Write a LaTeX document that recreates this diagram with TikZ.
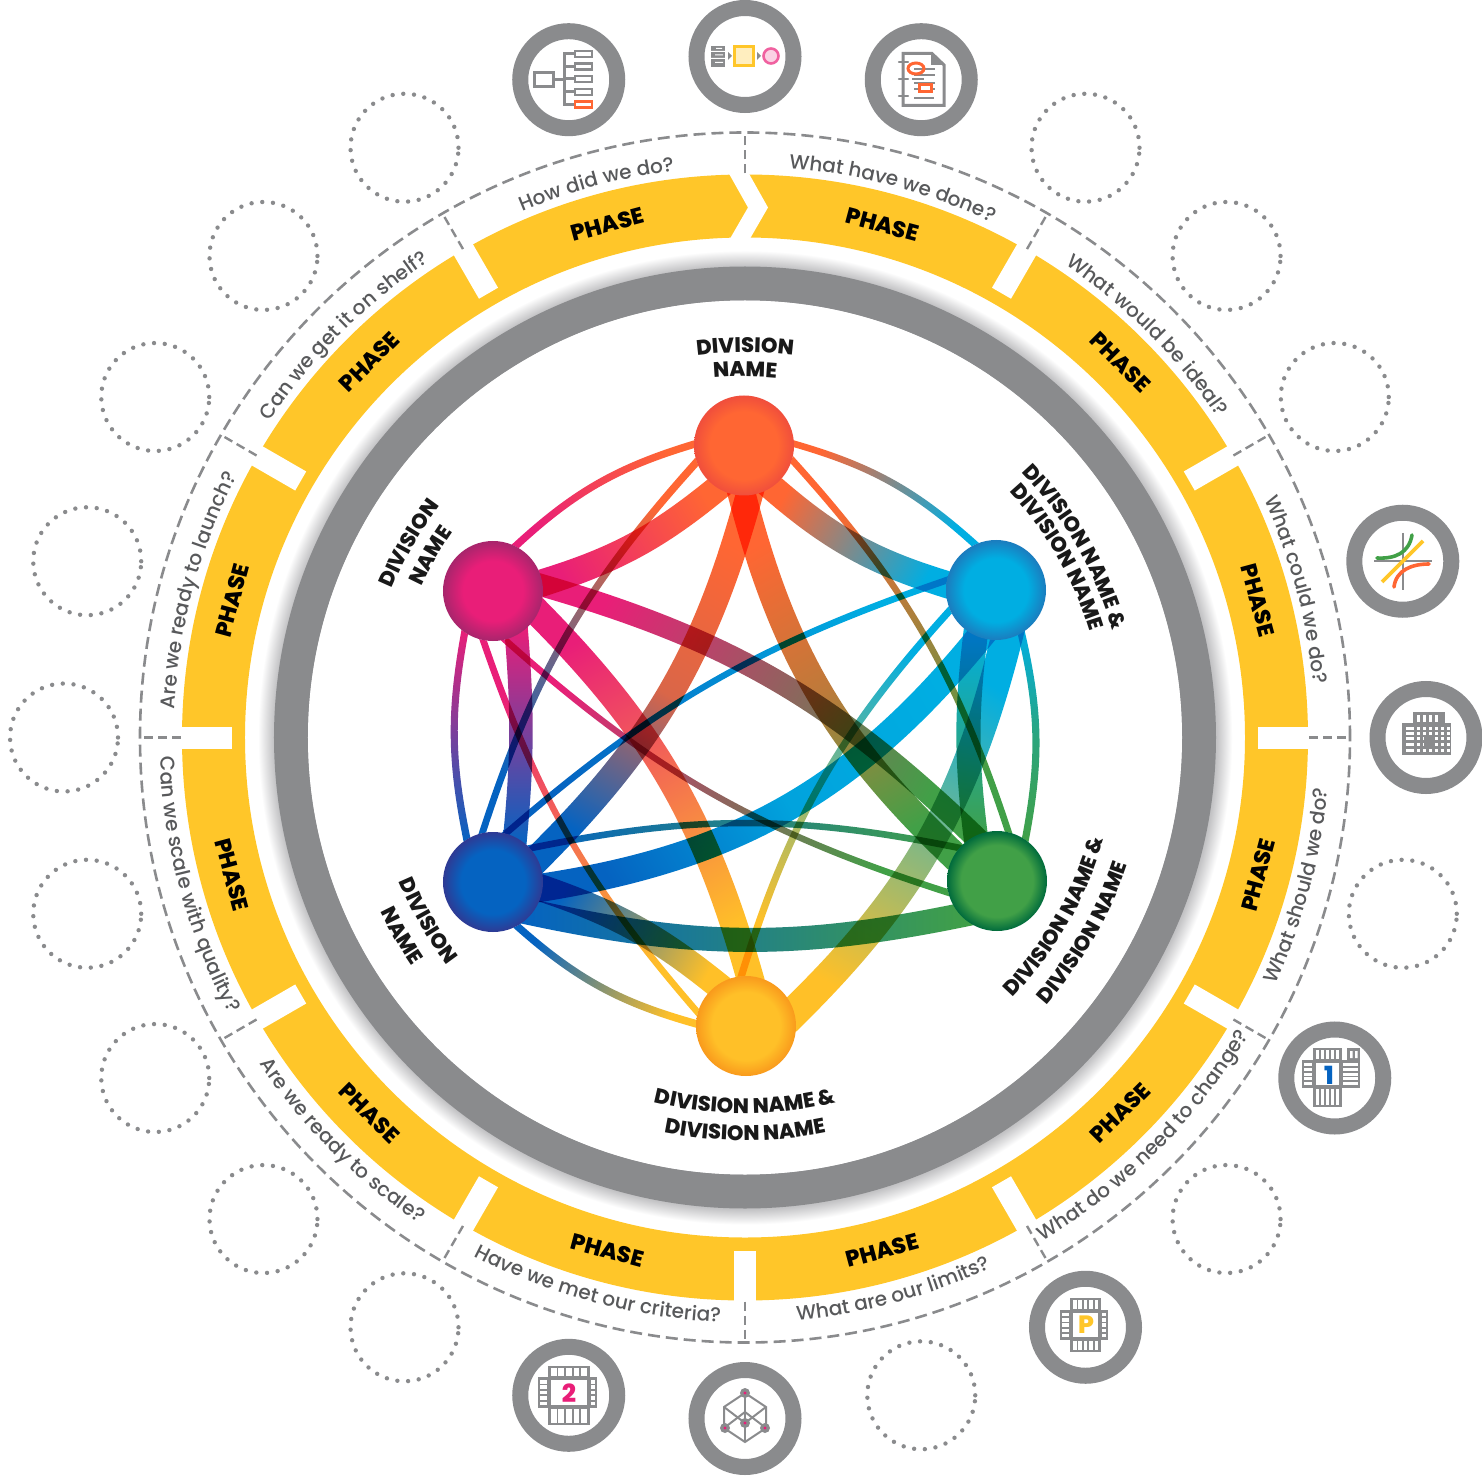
\documentclass[tikz,border=0pt]{standalone}
\usepackage{fontspec}
\usetikzlibrary{calc,decorations.text}
\setmainfont{Poppins}
\newfontfamily\qfam{Poppins Medium}
\newfontfamily\heavyfam{Poppins ExtraBold}

\definecolor{ringgray}{HTML}{8A8B8D}
\definecolor{textgray}{HTML}{58595B}
\definecolor{phaseyellow}{HTML}{FFC629}
\definecolor{shadowgray}{HTML}{C2C2C4}
\definecolor{iconorange}{HTML}{FF6633}
\definecolor{orangehub}{HTML}{FF6633}
\definecolor{cyanhub}{HTML}{00AEE2}
\definecolor{greenhub}{HTML}{41A047}
\definecolor{yellowhub}{HTML}{FFC028}
\definecolor{bluehub}{HTML}{0563C1}
\definecolor{magentahub}{HTML}{E91E78}
\definecolor{orangerim}{HTML}{F04E3C}
\definecolor{cyanrim}{HTML}{1B7CBE}
\definecolor{greenrim}{HTML}{006B3C}
\definecolor{yellowrim}{HTML}{F99A1C}
\definecolor{bluerim}{HTML}{2E3A94}
\definecolor{magentarim}{HTML}{A8256C}

\pgfdeclareradialshading{orangeball}{\pgfpoint{0bp}{0bp}}{color(0bp)=(orangehub);color(17bp)=(orangehub);color(25bp)=(orangerim);color(100bp)=(white)}
\pgfdeclareradialshading{cyanball}{\pgfpoint{0bp}{0bp}}{color(0bp)=(cyanhub);color(16bp)=(cyanhub);color(25bp)=(cyanrim);color(100bp)=(white)}
\pgfdeclareradialshading{greenball}{\pgfpoint{0bp}{0bp}}{color(0bp)=(greenhub);color(18bp)=(greenhub);color(25bp)=(greenrim);color(100bp)=(white)}
\pgfdeclareradialshading{yellowball}{\pgfpoint{0bp}{0bp}}{color(0bp)=(yellowhub);color(17bp)=(yellowhub);color(25bp)=(yellowrim);color(100bp)=(white)}
\pgfdeclareradialshading{blueball}{\pgfpoint{0bp}{0bp}}{color(0bp)=(bluehub);color(16bp)=(bluehub);color(25bp)=(bluerim);color(100bp)=(white)}
\pgfdeclareradialshading{magentaball}{\pgfpoint{0bp}{0bp}}{color(0bp)=(magentahub);color(15bp)=(magentahub);color(25bp)=(magentarim);color(100bp)=(white)}
\pgfdeclareradialshading{ringshadow}{\pgfpoint{0bp}{0bp}}{color(0bp)=(white);color(23.5bp)=(shadowgray);color(24.05bp)=(shadowgray);color(24.85bp)=(white);color(100bp)=(white)}

\pgfdeclarelayer{hubs}
\pgfsetlayers{main,hubs}

\newcommand\qfont{\qfam\fontsize{20}{22}\selectfont\color{textgray}}
\newcommand\headfont{\heavyfam\fontsize{21}{24}\selectfont\color{black!90}}

\tikzset{
  iconring/.style={circle,draw=ringgray,line width=16pt,minimum size=97pt,inner sep=0pt,outer sep=0pt},
  dotring/.style={circle,draw=ringgray,line width=4.4pt,line cap=round,dash pattern=on 0pt off 10.75pt,minimum size=108pt,inner sep=0pt},
  hub/.style={circle,minimum size=100pt,inner sep=0pt,outer sep=0pt,shade,shading=#1},
  phaselabel/.style={font=\heavyfam\fontsize{22.5}{24}\selectfont,text=black,inner sep=0pt},
  divider/.style={draw=ringgray,line width=2.4pt,dash pattern=on 9pt off 5pt},
  iconline/.style={draw=ringgray,line width=3pt},
  thinline/.style={draw=ringgray,line width=2pt},
  chipdigit/.style={font=\heavyfam\fontsize{25}{26}\selectfont,inner sep=0pt}
}

% text on the upper half, clockwise
\newcommand\toparc[4]{
  \path[decorate,decoration={text along path,text align=center,text={|#1|#4}}]
    (#2+28:#3) arc [start angle=#2+28, end angle=#2-28, radius=#3];
}
% text on the lower half, counter clockwise
\newcommand\botarc[4]{
  \path[decorate,decoration={text along path,text align=center,text={|#1|#4}}]
    (#2-28:#3) arc [start angle=#2-28, end angle=#2+28, radius=#3];
}
% cross shaped chip of the icons
\newcommand\chipicon[8]{
  \fill[ringgray] (#2,#5) rectangle (#3,#8);
  \fill[ringgray] (#1,#6) rectangle (#4,#7);
  \foreach \i in {0,...,4}{
    \pgfmathsetmacro\xs{#2+2+(#3-#2-4)*\i/5+.9}
    \pgfmathsetmacro\xe{\xs+(#3-#2-4)/5-1.8}
    \fill[white] (\xs,#5+2) rectangle (\xe,#6-1);
    \fill[white] (\xs,#7+1) rectangle (\xe,#8-2);
    \pgfmathsetmacro\ys{#6+2+(#7-#6-4)*\i/5+.9}
    \pgfmathsetmacro\ye{\ys+(#7-#6-4)/5-1.8}
    \fill[white] (#1+2,\ys) rectangle (#2-1,\ye);
    \fill[white] (#3+1,\ys) rectangle (#4-2,\ye);
  }
  \fill[white] (#2+3,#6+3) rectangle (#3-3,#7-3);
}

\begin{document}
\begin{tikzpicture}[x=1pt,y=1pt]
  \useasboundingbox (-745,-737.5) rectangle (737,737.5);

  % phase band
  \draw[phaseyellow,line width=63pt] (0,0) circle [radius=531.5];
  \foreach \ang in {0,30,60,120,150,180,-30,-60,-90,-120,-150}
    \fill[white,rotate=\ang] (513,-11) rectangle (572,11);
  \fill[white] (-19.5,570) -- (0.5,570) -- (23,530) -- (0.5,491) -- (-19.5,491) -- (3,530) -- cycle;

  % shadow and grey ring
  \shade[shading=ringshadow] (0,0) circle [radius=490];
  \draw[ringgray,line width=34pt] (0,0) circle [radius=454];
  \fill[white] (0,0) circle [radius=437];

  % dashed circle
  \draw[ringgray,line width=2.6pt,dash pattern=on 12pt off 6pt] (0,0) circle [radius=605];
  \foreach \ang in {0,30,...,330}
    \draw[divider] (\ang:564) -- (\ang:603);

  % phases and questions
  \foreach \ang in {15,45,75,105,135,165}
    \node[phaselabel,rotate=\ang-90] (phase\ang) at (\ang:531) {PHASE};
  \foreach \ang in {-15,-45,-75,-105,-135,-165}
    \node[phaselabel,rotate=\ang+90] (phase\ang) at (\ang:531) {PHASE};

  \toparc{\qfont}{75}{571}{What have we done?}
  \toparc{\qfont}{45}{571}{What would be ideal?}
  \toparc{\qfont}{15}{571}{What could we do?}
  \toparc{\qfont}{105}{571}{How did we do?}
  \toparc{\qfont}{135}{571}{Can we get it on shelf?}
  \toparc{\qfont}{165}{571}{Are we ready to launch?}
  \botarc{\qfont}{-15}{585}{What should we do?}
  \botarc{\qfont}{-45}{585}{What do we need to change?}
  \botarc{\qfont}{-75}{585}{What are our limits?}
  \botarc{\qfont}{-105}{585}{Have we met our criteria?}
  \botarc{\qfont}{-135}{585}{Are we ready to scale?}
  \botarc{\qfont}{-165}{585}{Can we scale with quality?}

  % outer rings
  \foreach \ang in {30,45,60,120,135,150,165,180,195,210,225,240,-75,-45,-15}
    \node[dotring] (slot\ang) at (\ang:681) {};
  \foreach \ang in {105,90,75,15,0,-30,-60,-90,-105}
    \node[iconring] (icon\ang) at (\ang:681) {};

  % icons, in picture coordinates
  \begin{scope}[shift={(-745,737.5)},yscale=-1]
    % tree
    \draw[iconline] (534.5,72.5) rectangle (553.5,86.5);
    \draw[iconline] (555,79.5) -- (565,79.5);
    \draw[iconline] (565,52.5) -- (565,106.5);
    \foreach \y in {54,66.5,79,92}{
      \draw[iconline] (565,\y) -- (575,\y);
      \draw[thinline,line width=2.6pt] (575,\y-3) rectangle (592,\y+3);
    }
    \draw[iconline] (565,105) -- (575,105);
    \draw[iconorange,line width=2.6pt] (575,101.5) rectangle (592,107.5);
    % process
    \fill[ringgray] (711,46) rectangle (725,67);
    \fill[white] (711,51) rectangle (725,52) (711,58) rectangle (725,59);
    \fill[white] (716,48) rectangle (722,49) (715,54.5) rectangle (723,55.5) (715,62) rectangle (723,63);
    \fill[ringgray] (728,52) -- (732,56) -- (728,60) -- cycle;
    \draw[phaseyellow,fill=phaseyellow!30,line width=2.6pt] (734.5,46.5) rectangle (753.5,65.5);
    \fill[ringgray] (757,52) -- (761,56) -- (757,60) -- cycle;
    \draw[magentahub!70,fill=magentahub!20,line width=2.6pt] (771,56) circle [radius=7.5];
    % document
    \draw[iconline] (903,53.5) -- (932,53.5) -- (944,65) -- (944,105.5) -- (903,105.5) -- cycle;
    \fill[ringgray] (931,53) -- (944,65) -- (931,65) -- cycle;
    \foreach \y in {62,79,96}
      \draw[ringgray,line width=2.4pt,line cap=round] (899,\y) -- (908,\y);
    \foreach \y/\xa/\xb in {69/914/935,75/914/935,79/912/924,83/914/935,89/914/935,98/914/934}
      \draw[thinline] (\xa,\y) -- (\xb,\y);
    \draw[iconorange,line width=3pt] (916,68.5) ellipse [x radius=8, y radius=5.5];
    \draw[iconorange,fill=white,line width=3pt] (919,84.5) rectangle (931,91.5);
    % curves
    \draw[thinline] (1403,533) -- (1403,590);
    \draw[thinline] (1374,561) -- (1432,561);
    \draw[phaseyellow,line width=3.6pt] (1382,582) -- (1423,541);
    \draw[greenhub,line width=3.6pt,line cap=round] (1377,558) .. controls (1395,559) and (1409,553) .. (1412,535);
    \draw[iconorange,line width=3.6pt,line cap=round] (1394,587) .. controls (1396,570) and (1412,564) .. (1429,564);
    % building
    \fill[ringgray] (1413,712) rectangle (1445,724);
    \fill[ringgray] (1402,723) rectangle (1451,755);
    \foreach \x in {1417,1423,1429,1435}
      \fill[white] (\x,714.5) rectangle (\x+3,722);
    \foreach \y in {727,732,737,743,749}{
      \fill[white] (1406,\y) rectangle (1413.5,\y+3);
      \foreach \x in {1417,1423,1429,1435,1441,1447}
        \fill[white] (\x,\y) rectangle (\x+3.2,\y+3);
    }
    \fill[ringgray] (1424,736) rectangle (1434,746);
    % chips
    \chipicon{1302}{1313}{1342}{1360}{1048}{1060}{1088}{1107}
    \fill[ringgray] (1347,1048) rectangle (1360,1060);
    \fill[white] (1350,1051) rectangle (1352.5,1058) (1355,1051) rectangle (1357.5,1058);
    \node[chipdigit,text=bluehub] (chipone) at (1329,1075) {1};
    \chipicon{1060}{1070}{1101}{1108}{1298}{1310}{1340}{1352}
    \node[chipdigit,text=phaseyellow] (chipp) at (1086,1325) {P};
    \chipicon{538}{548}{590}{597}{1366}{1377}{1408}{1425}
    \node[chipdigit,text=magentahub] (chiptwo) at (569,1393) {2};
    % cube
    \draw[thinline] (745,1393) -- (766,1407) -- (766,1428) -- (745,1442) -- (724,1428) -- (724,1407) -- cycle;
    \draw[thinline] (724,1407) -- (745,1423) -- (766,1407);
    \draw[thinline] (745,1393) -- (745,1442);
    \draw[thinline] (724,1428) -- (745,1412) -- (766,1428);
    \foreach \x/\y in {745/1393,745/1423,725/1428,765/1428}{
      \fill[ringgray] (\x,\y) circle [radius=5];
      \fill[magentahub] (\x,\y) circle [radius=1.6];
    }
  \end{scope}

  % hubs
  \begin{pgfonlayer}{hubs}
    \node[hub=orangeball] (orangehub) at (-1,292) {};
    \node[hub=cyanball] (cyanhub) at (251,147.5) {};
    \node[hub=greenball] (greenhub) at (252,-143.5) {};
    \node[hub=yellowball] (yellowhub) at (1,-288.5) {};
    \node[hub=blueball] (bluehub) at (-252,-144.5) {};
    \node[hub=magentaball] (magentahub) at (-252,146.5) {};
  \end{pgfonlayer}

  % bands between the hubs
  \foreach \hubA/\hubB/\angA/\angB/\bendB/\halfB/\mixB in {
    orangehub/magentahub/179/64/-13/4.6/50,
    orangehub/magentahub/239/9/11/16/50,
    orangehub/cyanhub/2/115/13/4.6/50,
    orangehub/cyanhub/-57/174/-12/16/50,
    cyanhub/greenhub/-60/56/12/4.6/35,
    cyanhub/greenhub/-115/116/-7/15/50,
    bluehub/greenhub/43/139/11.5/4.6/50,
    bluehub/greenhub/-39/-135/-12/17/50,
    magentahub/bluehub/-125/122/-11/4.6/50,
    magentahub/bluehub/-61/63/5/15/50,
    bluehub/yellowhub/-62/178/-13/4.6/50,
    bluehub/yellowhub/-7/124/10/16/50,
    orangehub/bluehub/199.5/103/-12/4.6/50,
    orangehub/bluehub/-83/27/15/17/85,
    orangehub/greenhub/-17/77/12/4.6/50,
    orangehub/greenhub/-93/150/-16/17/65,
    magentahub/greenhub/-77/194/-12/4.8/50,
    magentahub/greenhub/7/116/14/14/50,
    magentahub/yellowhub/-102/165/-11/4.6/50,
    magentahub/yellowhub/-25/85/14.5/17/50,
    cyanhub/bluehub/169/76/-11/4.6/50,
    cyanhub/bluehub/-108/-7/21/17/85,
    yellowhub/cyanhub/96/204/12.5/4.6/50,
    yellowhub/cyanhub/14/-76/-16/21/50}{
    \path let \p1=($(\hubB)-(\hubA)$), \n1={atan2(\y1,\x1)-90} in \pgfextra{\xdef\bandang{\n1}};
    \pgfmathsetmacro\ao{\angA+\halfB}
    \pgfmathsetmacro\au{\angA-\halfB}
    \pgfmathsetmacro\bo{\angB-\halfB}
    \pgfmathsetmacro\bu{\angB+\halfB}
    \path[blend mode=multiply,shade,bottom color=\hubA,top color=\hubB,middle color=\hubA!\mixB!\hubB,shading angle=\bandang]
      (\hubA.\ao) to[bend left=\bendB] (\hubB.\bo) -- (\hubB.\bu) to[bend right=\bendB] (\hubA.\au) -- cycle;
  }

  % division names
  \toparc{\headfont}{90}{385}{DIVISION}
  \toparc{\headfont}{90}{361}{NAME}
  \toparc{\headfont}{30}{383}{DIVISION NAME {\&}}
  \toparc{\headfont}{30}{361}{DIVISION NAME}
  \toparc{\headfont}{150}{383}{DIVISION}
  \toparc{\headfont}{150}{357}{NAME}
  \botarc{\headfont}{-30}{373}{DIVISION NAME {\&}}
  \botarc{\headfont}{-30}{403}{DIVISION NAME}
  \botarc{\headfont}{-90}{376}{DIVISION NAME {\&}}
  \botarc{\headfont}{-90}{403}{DIVISION NAME}
  \botarc{\headfont}{-150}{375}{DIVISION}
  \botarc{\headfont}{-150}{404}{NAME}
\end{tikzpicture}
\end{document}
